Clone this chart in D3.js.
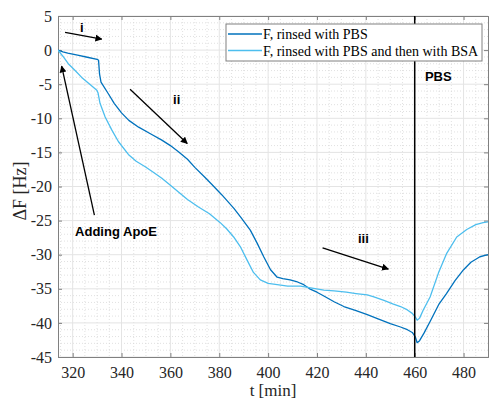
<!DOCTYPE html>
<html>
<head>
<meta charset="utf-8">
<script src="https://cdn.jsdelivr.net/npm/d3@7"></script>
<style>
  body { margin: 0; background: #fff; }
  svg { display: block; }
</style>
</head>
<body>
<div id="chart"></div>
<script>
// time axis [min] and frequency shift [Hz]
const tPbs = [314, 316, 318, 322, 326, 330, 330.6, 331, 331.6, 334.6, 337, 340, 343, 347, 352, 356.5, 360, 363.3, 367, 370, 374, 377, 381, 386, 389, 392.7, 395.5, 398.2, 401, 403.7, 406, 409, 412, 414.6, 417, 420, 423, 427, 431, 436, 440.6, 445, 450, 454.2, 457, 459, 460.2, 461, 462, 463.8, 466.3, 470, 473, 476.5, 480, 483, 486.7, 490];
const fPbs = [0, -0.25, -0.45, -0.75, -1.05, -1.35, -1.5, -3.5, -4.7, -6.4, -7.8, -9.2, -10.3, -11.3, -12.3, -13.2, -14.0, -14.9, -16.0, -17.2, -18.6, -19.7, -21.2, -23.2, -24.6, -26.4, -28.3, -30.3, -32.2, -33.3, -33.5, -33.7, -34.0, -34.4, -35.0, -35.5, -36.1, -36.9, -37.6, -38.2, -38.8, -39.4, -40.1, -40.6, -41.0, -41.4, -42.0, -42.9, -42.6, -41.5, -39.8, -37.2, -35.7, -33.8, -32.2, -31.1, -30.3, -30.0];

const tBsa = [314, 316, 318.2, 321, 323.7, 327, 329.9, 330.4, 331.2, 333.3, 336, 338.7, 342.8, 346, 349.7, 353, 356.5, 360, 363.3, 367, 371.5, 376, 380.4, 383, 385.9, 388.6, 391.4, 394, 396.8, 400, 403.7, 408, 413.2, 418, 422.8, 427, 432, 436, 440.6, 443.3, 447.4, 451, 454.2, 457, 459, 460.2, 461, 462, 463.5, 466.3, 469.7, 473.1, 477.2, 481.3, 485, 488, 490];
const fBsa = [0, -0.9, -2.0, -3.0, -4.0, -5.0, -5.9, -6.3, -7.8, -9.8, -11.7, -13.4, -15.3, -16.3, -17.1, -17.9, -18.8, -19.8, -20.8, -21.9, -23.0, -24.0, -25.3, -26.2, -27.4, -28.8, -30.8, -32.6, -33.7, -34.2, -34.4, -34.6, -34.6, -34.9, -35.2, -35.3, -35.5, -35.7, -35.9, -36.2, -36.7, -37.2, -37.6, -38.1, -38.6, -39.1, -39.6, -39.3, -38.1, -36.2, -32.7, -29.8, -27.4, -26.3, -25.6, -25.3, -25.2];

const seriesNames = ["F, rinsed with PBS", "F, rinsed with PBS and then with BSA"];
const seriesColors = ["#0072BD", "#4DBEEE"];

const xTicks = [320, 340, 360, 380, 400, 420, 440, 460, 480];
const yTicks = [5, 0, -5, -10, -15, -20, -25, -30, -35, -40, -45];

// annotations, in data units: [t1, f1, t2, f2]
const arrowLines = [
  [316.9, 2.6, 331.9, 1.6],
  [343.5, -5.75, 366.9, -13.7],
  [422.3, -29.0, 449.2, -32.1],
  [328.9, -24.2, 315.5, -2.35]
];
const labels = [
  { t: 323.7, f: 2.65, text: "i", anchor: "middle" },
  { t: 362.6, f: -7.9, text: "ii", anchor: "middle" },
  { t: 439, f: -28.3, text: "iii", anchor: "middle" },
  { t: 321, f: -27.3, text: "Adding ApoE", anchor: "start" },
  { t: 464.2, f: -4.5, text: "PBS", anchor: "start" }
];
const pbsTime = 460;

const serif = "Liberation Serif";
const W = 489, H = 399;
const margin = { top: 16, right: 1, bottom: 42, left: 58 };
const width = W - margin.left - margin.right;
const height = H - margin.top - margin.bottom;

const svg = d3.select("#chart").append("svg")
  .attr("width", W)
  .attr("height", H);

svg.append("defs").append("clipPath").attr("id", "clip")
  .append("rect").attr("width", width).attr("height", height);

svg.select("defs").append("marker")
  .attr("id", "head")
  .attr("viewBox", "0 0 10 10")
  .attr("refX", 9).attr("refY", 5)
  .attr("markerWidth", 7).attr("markerHeight", 7)
  .attr("markerUnits", "userSpaceOnUse")
  .attr("orient", "auto")
  .append("path").attr("d", "M0,0 L10,5 L0,10 z").attr("fill", "#000");

const g = svg.append("g").attr("transform", `translate(${margin.left},${margin.top})`);

const x = d3.scaleLinear().domain([314, 490]).range([0, width]);
const y = d3.scaleLinear().domain([-45, 5]).range([height, 0]);

// minor grid (dotted)
g.append("g").selectAll("line")
  .data(d3.range(315, 490, 5).filter(v => v % 20 !== 0))
  .enter().append("line")
  .attr("x1", d => x(d)).attr("x2", d => x(d))
  .attr("y1", 0).attr("y2", height)
  .attr("stroke", "#d4d4d4").attr("stroke-width", 0.7).attr("stroke-dasharray", "1,2");
g.append("g").selectAll("line")
  .data(d3.range(-44, 5, 1).filter(v => v % 5 !== 0))
  .enter().append("line")
  .attr("x1", 0).attr("x2", width)
  .attr("y1", d => y(d)).attr("y2", d => y(d))
  .attr("stroke", "#d4d4d4").attr("stroke-width", 0.7).attr("stroke-dasharray", "1,2");

// major grid
g.append("g").selectAll("line").data(xTicks).enter().append("line")
  .attr("x1", d => x(d)).attr("x2", d => x(d))
  .attr("y1", 0).attr("y2", height)
  .attr("stroke", "#e4e4e4").attr("stroke-width", 1);
g.append("g").selectAll("line").data(yTicks).enter().append("line")
  .attr("x1", 0).attr("x2", width)
  .attr("y1", d => y(d)).attr("y2", d => y(d))
  .attr("stroke", "#e4e4e4").attr("stroke-width", 1);

// axes
const axisColor = "#808080";
const xAxis = g.append("g")
  .attr("transform", `translate(0,${height})`)
  .call(d3.axisBottom(x).tickValues(xTicks).tickSize(-4).tickPadding(10));
const yAxis = g.append("g")
  .call(d3.axisLeft(y).tickValues(yTicks).tickSize(-4).tickPadding(6).tickFormat(d3.format("d")));
g.append("g").call(d3.axisTop(x).tickValues(xTicks).tickSize(-4).tickFormat(""));
g.append("g").attr("transform", `translate(${width},0)`)
  .call(d3.axisRight(y).tickValues(yTicks).tickSize(-4).tickFormat(""));
g.selectAll(".domain, .tick line").attr("stroke", axisColor);
yAxis.selectAll(".tick text").text(d => d < 0 ? "-" + Math.abs(d) : d);
g.selectAll(".tick text")
  .style("font-family", serif)
  .style("font-size", "16px")
  .attr("fill", "#262626");

// data lines
const line = d3.line().x(d => x(d[0])).y(d => y(d[1]));
const plot = g.append("g").attr("clip-path", "url(#clip)");
const seriesData = [d3.zip(tPbs, fPbs), d3.zip(tBsa, fBsa)];
seriesData.forEach((data, i) => {
  plot.append("path")
    .datum(data)
    .attr("fill", "none")
    .attr("stroke", seriesColors[i])
    .attr("stroke-width", 1.3)
    .attr("stroke-linejoin", "round")
    .attr("d", line);
});

// PBS vertical line
g.append("line")
  .attr("x1", x(pbsTime)).attr("x2", x(pbsTime))
  .attr("y1", 0).attr("y2", height)
  .attr("stroke", "#000").attr("stroke-width", 1.5);

// arrows
g.selectAll(".arrow").data(arrowLines).enter().append("line")
  .attr("class", "arrow")
  .attr("x1", d => x(d[0])).attr("y1", d => y(d[1]))
  .attr("x2", d => x(d[2])).attr("y2", d => y(d[3]))
  .attr("stroke", "#000").attr("stroke-width", 1.3)
  .attr("marker-end", "url(#head)");

g.selectAll(".lbl").data(labels).enter().append("text")
  .attr("class", "lbl")
  .attr("x", d => x(d.t)).attr("y", d => y(d.f))
  .attr("text-anchor", d => d.anchor)
  .attr("font-family", "'Liberation Sans', Arial, sans-serif")
  .attr("font-weight", "bold")
  .attr("font-size", "13px")
  .attr("fill", "#000")
  .text(d => d.text);

// legend
const legend = svg.append("g").attr("transform", "translate(226,24)");
legend.append("rect")
  .attr("width", 256).attr("height", 37)
  .attr("fill", "#fff").attr("stroke", "#808080").attr("stroke-width", 1);
seriesNames.forEach((name, i) => {
  const ly = 10 + i * 16.5;
  legend.append("line")
    .attr("x1", 2).attr("x2", 36).attr("y1", ly).attr("y2", ly)
    .attr("stroke", seriesColors[i]).attr("stroke-width", 1.3);
  legend.append("text")
    .attr("x", 37).attr("y", ly + 5)
    .attr("font-family", serif)
    .attr("font-size", "14px")
    .attr("fill", "#000")
    .text(name);
});

// axis labels
svg.append("text")
  .attr("x", 273).attr("y", 396)
  .attr("text-anchor", "middle")
  .attr("font-family", serif)
  .attr("font-size", "17px").attr("fill", "#262626")
  .text("t [min]");
svg.append("text")
  .attr("transform", "translate(26,191) rotate(-90)")
  .attr("text-anchor", "middle")
  .attr("font-family", serif)
  .attr("font-size", "18px").attr("fill", "#262626")
  .text("ΔF [Hz]");
</script>
</body>
</html>
